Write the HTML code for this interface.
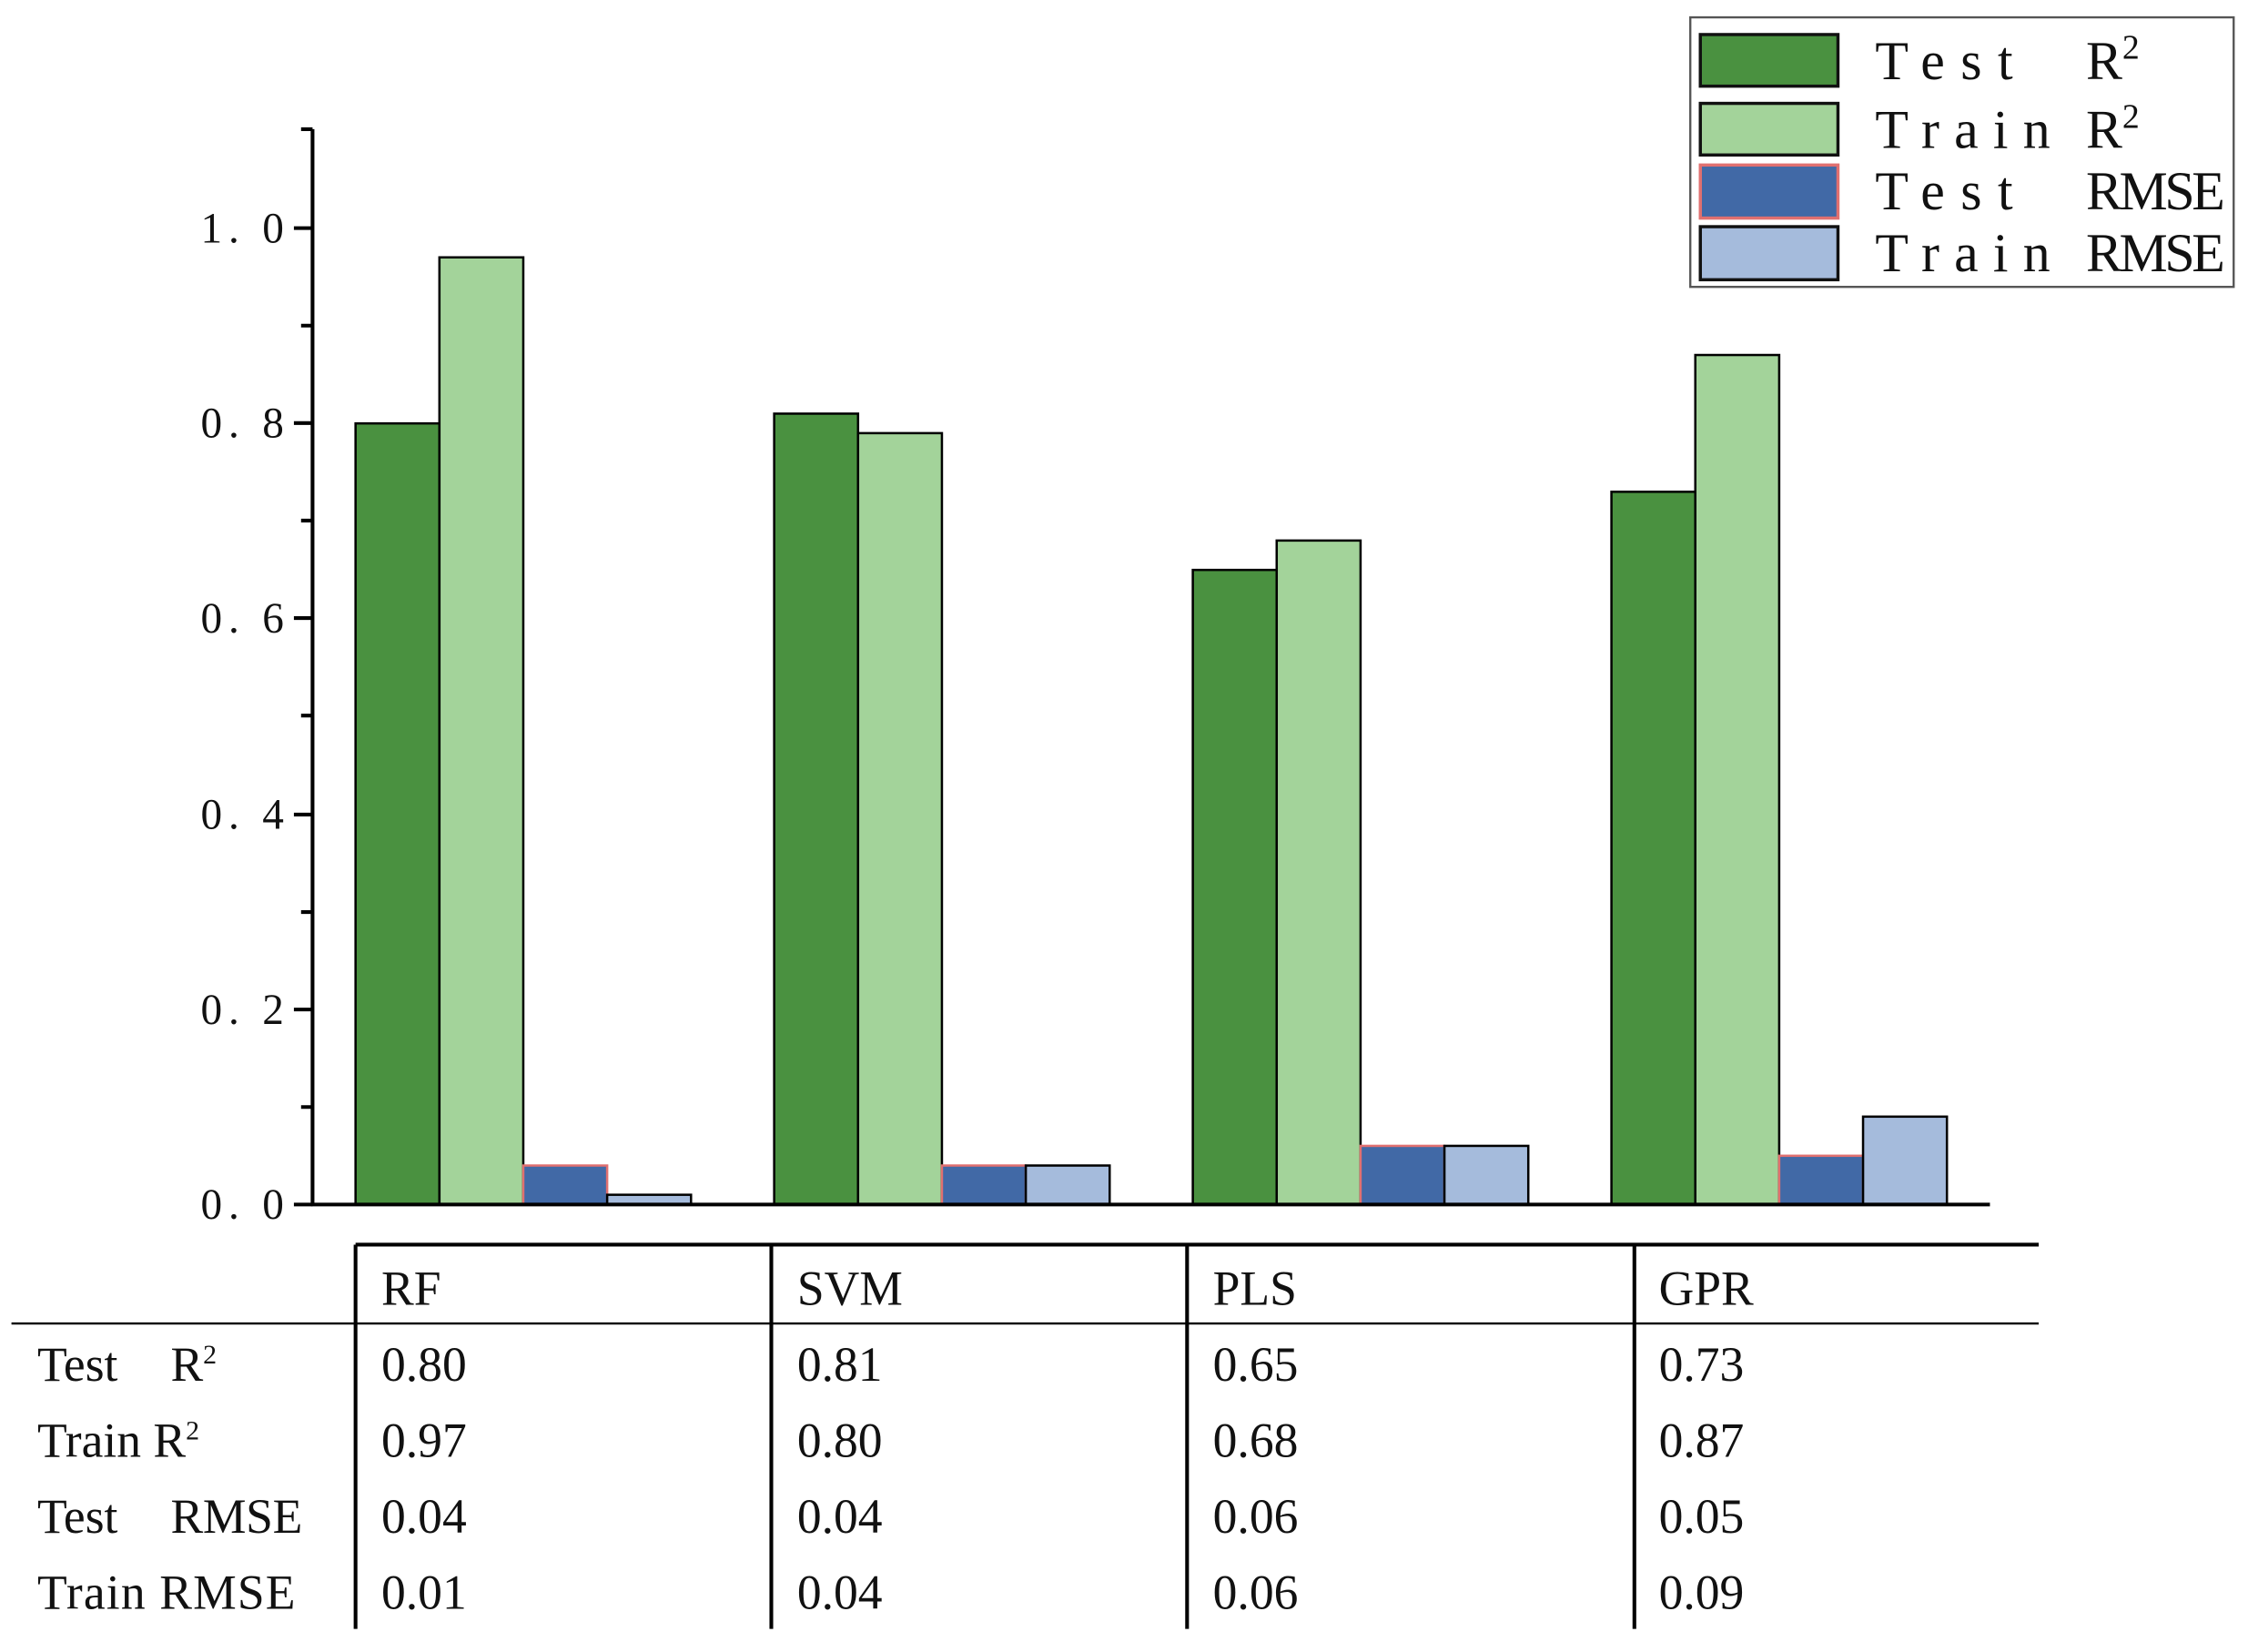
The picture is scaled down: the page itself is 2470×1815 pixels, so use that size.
<!DOCTYPE html>
<html><head><meta charset="utf-8"><style>html,body{margin:0;padding:0;background:#fff}svg{display:block}</style></head>
<body>
<svg width="2470" height="1815" viewBox="0 0 1568 1152" xmlns="http://www.w3.org/2000/svg">
<rect width="1568" height="1152" fill="#fff"/>
<g stroke="#000" stroke-width="1.6">
<rect x="248" y="295.2" width="58.5" height="544.8" fill="#4a9140"/>
<rect x="306.5" y="179.4" width="58.5" height="660.6" fill="#a3d39a"/>
<rect x="365" y="812.8" width="58.5" height="27.2" fill="#4169a6" stroke="#e07070"/>
<rect x="423.5" y="833.2" width="58.5" height="6.8" fill="#a5bbdc"/>
<rect x="540" y="288.4" width="58.5" height="551.6" fill="#4a9140"/>
<rect x="598.5" y="302" width="58.5" height="538" fill="#a3d39a"/>
<rect x="657" y="812.8" width="58.5" height="27.2" fill="#4169a6" stroke="#e07070"/>
<rect x="715.5" y="812.8" width="58.5" height="27.2" fill="#a5bbdc"/>
<rect x="832" y="397.4" width="58.5" height="442.6" fill="#4a9140"/>
<rect x="890.5" y="376.9" width="58.5" height="463.1" fill="#a3d39a"/>
<rect x="949" y="799.1" width="58.5" height="40.9" fill="#4169a6" stroke="#e07070"/>
<rect x="1007.5" y="799.1" width="58.5" height="40.9" fill="#a5bbdc"/>
<rect x="1124" y="342.9" width="58.5" height="497.1" fill="#4a9140"/>
<rect x="1182.5" y="247.5" width="58.5" height="592.5" fill="#a3d39a"/>
<rect x="1241" y="806" width="58.5" height="34" fill="#4169a6" stroke="#e07070"/>
<rect x="1299.5" y="778.7" width="58.5" height="61.3" fill="#a5bbdc"/>
</g>
<g stroke="#000" stroke-width="2.6" fill="none">
<line x1="218" y1="90" x2="218" y2="841"/>
<line x1="217" y1="840" x2="1388" y2="840"/>
<path d="M205 159H218M205 295H218M205 431H218M205 568H218M205 704H218M205 840H218"/>
<path d="M210 90H218M210 227H218M210 363H218M210 499H218M210 636H218M210 772H218"/>
</g>
<g font-family="Liberation Serif, serif" font-size="30" fill="#111">
<text x="140" y="169" textLength="58" lengthAdjust="spacing">1. 0</text>
<text x="140" y="305" textLength="58" lengthAdjust="spacing">0. 8</text>
<text x="140" y="441" textLength="58" lengthAdjust="spacing">0. 6</text>
<text x="140" y="578" textLength="58" lengthAdjust="spacing">0. 4</text>
<text x="140" y="714" textLength="58" lengthAdjust="spacing">0. 2</text>
<text x="140" y="850" textLength="58" lengthAdjust="spacing">0. 0</text>
</g>
<rect x="1179" y="12" width="379" height="188" fill="#fff" stroke="#555" stroke-width="1.5"/>
<g stroke="#111" stroke-width="2.2">
<rect x="1186" y="24" width="96" height="36" fill="#4a9140"/>
<rect x="1186" y="72" width="96" height="36" fill="#a3d39a"/>
<rect x="1186" y="115" width="96" height="37" fill="#4169a6" stroke="#e07070"/>
<rect x="1186" y="158" width="96" height="37" fill="#a5bbdc"/>
</g>
<g font-family="Liberation Serif, serif" font-size="38" fill="#111">
<text x="1308" y="55" textLength="96" lengthAdjust="spacing">Test</text><text x="1455" y="55">R<tspan font-size="24" dy="-14">2</tspan></text>
<text x="1308" y="103" textLength="122" lengthAdjust="spacing">Train</text><text x="1455" y="103">R<tspan font-size="24" dy="-14">2</tspan></text>
<text x="1308" y="146" textLength="96" lengthAdjust="spacing">Test</text><text x="1455" y="146" textLength="97">RMSE</text>
<text x="1308" y="189" textLength="122" lengthAdjust="spacing">Train</text><text x="1455" y="189" textLength="97">RMSE</text>
</g>
<g stroke="#000" fill="none">
<line x1="248" y1="868" x2="1422" y2="868" stroke-width="2.6"/>
<line x1="8" y1="923" x2="1422" y2="923" stroke-width="1.5"/>
<path d="M248 868V1136M538 868V1136M828 868V1136M1140 868V1136" stroke-width="2.6"/>
</g>
<g font-family="Liberation Serif, serif" font-size="34" fill="#111">
<text x="266" y="910">RF</text><text x="556" y="910">SVM</text><text x="846" y="910">PLS</text><text x="1157" y="910">GPR</text>
<text x="26" y="963">Test</text><text x="119" y="963">R<tspan font-size="19" dy="-12">2</tspan></text>
<text x="26" y="1016">Train R<tspan font-size="19" dy="-12">2</tspan></text>
<text x="26" y="1069">Test</text><text x="119" y="1069" textLength="92">RMSE</text>
<text x="26" y="1122" textLength="180">Train RMSE</text>
<text x="266" y="963">0.80</text><text x="556" y="963">0.81</text><text x="846" y="963">0.65</text><text x="1157" y="963">0.73</text>
<text x="266" y="1016">0.97</text><text x="556" y="1016">0.80</text><text x="846" y="1016">0.68</text><text x="1157" y="1016">0.87</text>
<text x="266" y="1069">0.04</text><text x="556" y="1069">0.04</text><text x="846" y="1069">0.06</text><text x="1157" y="1069">0.05</text>
<text x="266" y="1122">0.01</text><text x="556" y="1122">0.04</text><text x="846" y="1122">0.06</text><text x="1157" y="1122">0.09</text>
</g>
</svg>
</body></html>
